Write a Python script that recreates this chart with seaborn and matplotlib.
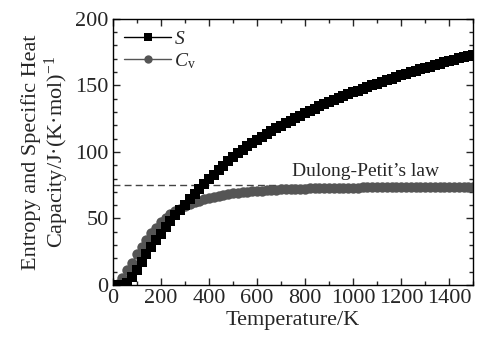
import numpy as np
import pandas as pd
import matplotlib
matplotlib.use("Agg")
import matplotlib.pyplot as plt
import seaborn as sns
from matplotlib.ticker import MultipleLocator

# ------------------------------------------------------------------------------
# Data (20 K steps)
# ------------------------------------------------------------------------------
temperature = [0, 20, 40, 60, 80, 100, 120, 140, 160, 180, 200, 220, 240, 260, 280,
               300, 320, 340, 360, 380, 400, 420, 440, 460, 480, 500, 520, 540, 560,
               580, 600, 620, 640, 660, 680, 700, 720, 740, 760, 780, 800, 820, 840,
               860, 880, 900, 920, 940, 960, 980, 1000, 1020, 1040, 1060, 1080, 1100,
               1120, 1140, 1160, 1180, 1200, 1220, 1240, 1260, 1280, 1300, 1320, 1340,
               1360, 1380, 1400, 1420, 1440, 1460, 1480, 1500]

entropy = [0, 0, 0, 1.5, 6, 11.5, 17.5, 23, 28.5, 33.5, 38.5, 43.5, 48, 52.5, 56.5,
           60.5, 64.5, 68.5, 72.5, 76, 79.5, 83, 86.5, 89.5, 93, 96.2, 98.9, 101.6, 104.1,
           106.6, 109.0, 111.3, 113.5, 115.6, 117.7, 119.8, 121.7, 123.6, 125.5, 127.3,
           129.1, 130.8, 132.5, 134.2, 135.8, 137.4, 138.9, 140.4, 141.9, 143.3, 144.7,
           146.1, 147.5, 148.8, 150.1, 151.4, 152.7, 153.9, 155.1, 156.3, 157.5, 158.6,
           159.8, 160.9, 162.0, 163.1, 164.2, 165.2, 166.2, 167.3, 168.3, 169.3, 170.3,
           171.2, 172.2, 173.1]

heat_capacity = [0, 0.5, 5, 11, 16.5, 23, 28.5, 34, 39, 43, 47, 50.5, 53, 55.5, 57.5,
                 59.5, 61, 62.5, 63.5, 64.5, 65.5, 66.3, 67, 67.7, 68.3, 68.8, 69.3, 69.7,
                 70.1, 70.4, 70.7, 71, 71.2, 71.4, 71.6, 71.8, 72, 72.1, 72.3, 72.4, 72.5,
                 72.6, 72.7, 72.8, 72.9, 72.9, 73.0, 73.0, 73.1, 73.1, 73.2, 73.2, 73.3,
                 73.3, 73.3, 73.4, 73.4, 73.4, 73.5, 73.5, 73.5, 73.6, 73.6, 73.6, 73.6,
                 73.7, 73.7, 73.7, 73.7, 73.8, 73.8, 73.8, 73.8, 73.9, 73.9, 73.9]

dulong_petit = 75

df = pd.DataFrame({"T": temperature, "S": entropy, "Cv": heat_capacity})

# ------------------------------------------------------------------------------
# Style
# ------------------------------------------------------------------------------
sns.set_style("ticks")
plt.rcParams["font.family"] = ["Liberation Serif", "DejaVu Serif"]
plt.rcParams["mathtext.fontset"] = "custom"
plt.rcParams["mathtext.rm"] = "Liberation Serif"
plt.rcParams["mathtext.it"] = "Liberation Serif:italic"
plt.rcParams["font.size"] = 16

fig = plt.figure(figsize=(4.78, 3.43), dpi=100)
ax = fig.add_axes([0.236, 0.169, 0.754, 0.776])

ax.axhline(dulong_petit, color="#444444", lw=1, ls=(0, (5, 3)), zorder=1)

sns.lineplot(data=df, x="T", y="S", ax=ax, color="black", marker="s",
             markersize=7, markeredgewidth=0, lw=1, label="$S$", zorder=3)
sns.lineplot(data=df, x="T", y="Cv", ax=ax, color="#555555", marker="o",
             markersize=7.5, markeredgewidth=0, lw=1, label="$C_{\\mathrm{v}}$", zorder=2)

ax.text(1052, 79, "Dulong-Petit\u2019s law", ha="center", va="bottom", fontsize=14)

ax.set_xlim(0, 1500)
ax.set_ylim(0, 200)
ax.xaxis.set_major_locator(MultipleLocator(200))
ax.xaxis.set_minor_locator(MultipleLocator(100))
ax.yaxis.set_major_locator(MultipleLocator(50))
ax.yaxis.set_minor_locator(MultipleLocator(10))
ax.tick_params(which="both", direction="in", top=True, right=True, labelsize=16, pad=3)
ax.tick_params(which="major", length=5, width=1)
ax.tick_params(which="minor", length=3, width=1)
for sp in ax.spines.values():
    sp.set_linewidth(1)
    sp.set_color("black")

ax.set_xlabel("Temperature/K", fontsize=16, labelpad=2)
ax.set_ylabel("Entropy and Specific Heat\nCapacity/J\u00b7(K\u00b7mol)$^{-1}$",
              fontsize=16, labelpad=3, linespacing=1.1)

leg = ax.legend(loc="upper left", frameon=False, fontsize=14, handlelength=2.4,
                borderaxespad=0.3, handletextpad=0.15, labelspacing=0.15,
                borderpad=0.3)
for h in leg.legend_handles:
    h.set_markersize(6)

fig.savefig("out.png", dpi=100)
